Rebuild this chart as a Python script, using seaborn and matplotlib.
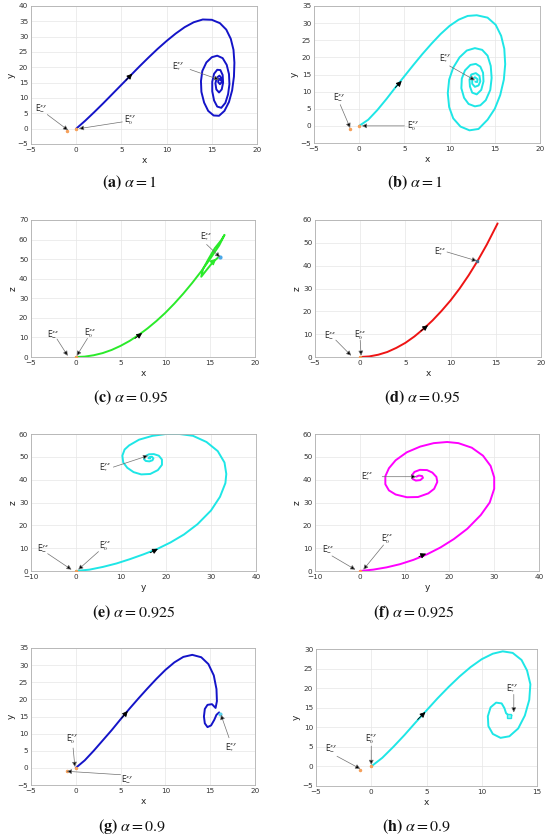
import numpy as np
import pandas as pd
import matplotlib
matplotlib.use("Agg")
import matplotlib.pyplot as plt
import seaborn as sns

# trajectories
a_x = [0, 1, 2, 3, 4, 5, 6, 7, 8, 9, 10, 11, 12, 13, 14, 15, 15.9, 16.6, 17.1, 17.4, 17.5, 17.45, 17.25, 16.9,
       16.4, 15.8, 15.2, 14.6, 14.15, 13.85, 13.8, 13.95, 14.4, 15.0, 15.6, 16.2, 16.65, 16.9, 16.95, 16.8, 16.5,
       16.05, 15.6, 15.25, 15.05, 15.05, 15.25, 15.6, 15.95, 16.2, 16.25, 16.1, 15.8, 15.5, 15.4, 15.55, 15.85,
       16.05, 16.1, 15.9, 15.7, 15.75, 15.9, 15.95]
a_y = [0, 2.6, 5.4, 8.3, 11.3, 14.3, 17.3, 20.3, 23.2, 26.0, 28.6, 31.0, 33.1, 34.7, 35.6, 35.5, 34.4, 32.3,
       29.3, 25.7, 21.5, 17, 12.5, 8.7, 5.8, 4.2, 4.3, 5.8, 8.5, 12, 15.5, 18.8, 21.6, 23.3, 23.8, 23, 20.8, 17.8,
       14.5, 11.2, 8.4, 6.8, 7.2, 9.2, 12.2, 15.3, 17.9, 19.2, 19.1, 17.5, 15, 12.8, 11.8, 12.8, 14.8, 16.6, 17.3,
       16.5, 15.2, 14.5, 15.2, 16.2, 16.2, 15.8]

b_x = [0, 1, 2, 3, 4, 5, 6, 7, 8, 9, 10, 11, 12, 13, 14.2, 15.1, 15.7, 16.05, 16.15, 16.0, 15.6, 15.0, 14.2,
       13.2, 12.2, 11.2, 10.4, 9.95, 9.8, 9.95, 10.4, 11.1, 11.9, 12.8, 13.6, 14.2, 14.55, 14.65, 14.5, 14.0,
       13.4, 12.8, 12.1, 11.6, 11.3, 11.35, 11.7, 12.3, 12.9, 13.4, 13.7, 13.75, 13.5, 13.0, 12.5, 12.25, 12.2,
       12.4, 12.9, 13.3, 13.4, 13.2, 12.8, 12.5, 12.5, 12.8, 13.1, 13.05, 12.85]
b_y = [0, 1.8, 4.6, 7.8, 11.2, 14.5, 17.8, 21.0, 24.0, 26.8, 29.2, 31.0, 32.1, 32.3, 31.6, 29.5, 26.3, 22.5, 18,
       13.5, 9, 5, 1.8, -0.9, -1.3, -0.2, 2.2, 5.5, 9.5, 13.5, 17, 20, 22, 22.7, 22.2, 20.5, 17.5, 14, 10.5, 7.5,
       6, 5.7, 6.4, 8.2, 11, 13.8, 16.2, 17.8, 18.1, 17.3, 15.5, 13, 10.5, 9.2, 9.7, 11.5, 13.5, 15, 15.4, 14.6,
       13, 11.8, 11.4, 12.3, 13.6, 14.2, 13.6, 12.8, 12.9]

c_x = [0, 1, 2, 3, 4, 5, 6, 7, 8, 9, 10, 11, 12, 13, 14, 15, 16, 16.6, 16.2, 15.5, 14.8, 14.2, 14.0, 14.6, 15.3,
       16.0]
c_y = [0, 0.2, 0.9, 2.0, 3.6, 5.7, 8.2, 11.2, 14.6, 18.4, 22.6, 27.3, 32.4, 37.9, 43.8, 50.2, 57.0, 62.4, 59.5,
       55.5, 50, 45, 41, 44.5, 48.5, 51.3]

d_x = [0, 1, 2, 3, 4, 5, 6, 7, 8, 9, 10, 11, 12, 13, 14, 15.2]
d_y = [0, 0.25, 1.0, 2.2, 4.0, 6.2, 9.0, 12.3, 16.0, 20.2, 24.8, 30.0, 35.8, 42.2, 49.2, 58.5]

e_y = [0, 3, 6, 9, 12, 15, 18, 21, 24, 27, 30, 32, 33.2, 33.4, 33, 31.5, 29, 26, 23, 20, 17, 14, 11.8, 10.8,
       10.3, 10.5, 11.4, 12.8, 14.5, 16.5, 18.2, 19.1, 19.1, 18.4, 17.3, 16.2, 15.3, 15.1, 15.5, 16.3, 17.0, 17.2,
       16.9, 16.3, 16.1, 16.5]
e_z = [0, 0.6, 1.8, 3.3, 5.2, 7.3, 9.6, 12.5, 16.0, 20.5, 26.5, 32.5, 38.5, 42.5, 47.5, 52.5, 56.5, 59.2, 60, 60,
       59.2, 57.5, 55, 53.2, 50.5, 47.5, 45.2, 43.3, 42.3, 42.5, 44.2, 46.5, 48.8, 50.5, 51.2, 51.1, 50.2, 49.0,
       48.2, 48.0, 48.5, 49.3, 50.0, 49.9, 49.4, 49.3]

f_y = [0, 3, 6, 9, 12, 15, 18, 21, 24, 27, 29, 30, 30, 29.2, 27.5, 25, 22, 19.5, 16.5, 13.5, 10.5, 8, 6.5, 5.7,
       5.7, 6.5, 8, 10.5, 13, 15.3, 16.6, 17.3, 17.1, 16.2, 15, 13.4, 12.2, 11.6, 11.8, 12.5, 13.5, 14.1, 13.9,
       13.2, 12.6]
f_z = [0, 0.6, 1.6, 3.0, 4.9, 7.3, 10.3, 14, 18.5, 24.5, 30, 36, 41, 46, 50.5, 54, 56, 56.5, 56, 54.5, 52, 48.5,
       45, 41.5, 38, 35.3, 33.5, 32.3, 32.4, 34, 36, 39, 41.2, 43.1, 44.2, 44.3, 43.4, 41.8, 40.3, 39.6, 39.8,
       40.8, 41.6, 41.8, 41.3]

g_x = [0, 1, 2, 3, 4, 5, 6, 7, 8, 9, 10, 11, 12, 13, 14, 14.8, 15.4, 15.7, 15.75, 15.6, 15.2, 14.7, 14.4, 14.3,
       14.4, 14.7, 15.1, 15.45, 15.7, 16.0]
g_y = [0, 2.2, 5.0, 8.0, 11.0, 14.2, 17.3, 20.3, 23.2, 26.0, 28.6, 30.8, 32.4, 33.0, 32.3, 30.3, 27, 23, 19.5,
       17.5, 18.6, 18.4, 17.2, 15.0, 13.0, 11.9, 12.4, 14, 15.5, 16.2]

h_x = [0, 1, 2, 3, 4, 5, 6, 7, 8, 9, 10, 11, 11.9, 12.8, 13.6, 14.1, 14.4, 14.3, 13.9, 13.3, 12.5, 11.7, 11.0,
       10.6, 10.55, 10.8, 11.3, 11.8, 12.05, 12.2, 12.5, 12.7]
h_y = [0, 2.2, 5.0, 8.0, 11.2, 14.3, 17.4, 20.3, 23.0, 25.4, 27.4, 28.8, 29.4, 29.0, 27.2, 24.5, 21, 17, 13, 9.7,
       7.7, 7.3, 8.3, 10.3, 12.8, 15.1, 16.3, 16.1, 14.9, 13.6, 12.9, 13.0]

captions = [r"$\mathbf{(a)}\ \alpha = 1$", r"$\mathbf{(b)}\ \alpha = 1$",
            r"$\mathbf{(c)}\ \alpha = 0.95$", r"$\mathbf{(d)}\ \alpha = 0.95$",
            r"$\mathbf{(e)}\ \alpha = 0.925$", r"$\mathbf{(f)}\ \alpha = 0.925$",
            r"$\mathbf{(g)}\ \alpha = 0.9$", r"$\mathbf{(h)}\ \alpha = 0.9$"]

sns.set_style("whitegrid")
plt.rcParams["font.family"] = ["DejaVu Sans"]
plt.rcParams["mathtext.fontset"] = "stix"

W, H = 550, 839
fig = plt.figure(figsize=(W / 100, H / 100), dpi=100)


def make_ax(l, t, r, b):
    ax = fig.add_axes([l / W, 1 - b / H, (r - l) / W, (b - t) / H])
    ax.grid(True, color="#e6e6e6", lw=0.5)
    for s in ax.spines.values():
        s.set_color("#b0b0b0")
        s.set_linewidth(0.6)
    ax.tick_params(labelsize=5.2, colors="#333333", length=0, pad=2)
    return ax


def panel(ax, xs, ys, color, xlim, ylim, xticks, yticks, xlab, ylab):
    df = pd.DataFrame({"u": xs, "v": ys})
    sns.lineplot(data=df, x="u", y="v", sort=False, estimator=None, color=color, lw=1.4, ax=ax)
    ax.set_xlim(*xlim)
    ax.set_ylim(*ylim)
    ax.set_xticks(xticks)
    ax.set_yticks(yticks)
    ax.set_xlabel(xlab, fontsize=6.5, labelpad=2, color="#222222")
    ax.set_ylabel(ylab, fontsize=6.5, labelpad=1, color="#222222")
    ax.plot([-1, 0], [-0.8, 0], "o", color="#f5a05a", ms=1.5, zorder=3)


def flow(ax, p0, p1):
    ax.annotate("", xy=p1, xytext=p0,
                arrowprops=dict(arrowstyle="-|>", color="k", lw=0.6, mutation_scale=8, shrinkA=0, shrinkB=0))


def label(ax, txt, tpos, start, end):
    ax.annotate("", xy=end, xytext=start,
                arrowprops=dict(arrowstyle="-|>", fc="k", ec="#707070", lw=0.5, mutation_scale=7,
                                shrinkA=0, shrinkB=0), zorder=4)
    ax.text(tpos[0], tpos[1], txt, fontsize=5.5, ha="center", va="center", color="#222222")


xy_s, xy_m, xy_0 = r"E$^{\mathsf{xy}}_{*}$", r"E$^{\mathsf{xy}}_{-}$", r"E$^{\mathsf{xy}}_{0}$"
xz_s, xz_m, xz_0 = r"E$^{\mathsf{xz}}_{*}$", r"E$^{\mathsf{xz}}_{-}$", r"E$^{\mathsf{xz}}_{0}$"
yz_s, yz_m, yz_0 = r"E$^{\mathsf{yz}}_{*}$", r"E$^{\mathsf{yz}}_{-}$", r"E$^{\mathsf{yz}}_{0}$"

# (a)
ax = make_ax(31, 6, 257, 144)
panel(ax, a_x, a_y, "#1414c8", (-5, 20), (-5, 40), range(-5, 21, 5), range(-5, 41, 5), "x", "y")
flow(ax, (5.5, 15.8), (6.2, 17.9))
label(ax, xy_s, (11.3, 20.2), (12.6, 19.3), (15.8, 16))
label(ax, xy_m, (-3.9, 6.8), (-3.2, 4.6), (-0.9, -0.5))
label(ax, xy_0, (6.0, 2.8), (5.1, 2.2), (0.3, 0))

# (b)
ax = make_ax(314, 6, 540, 143)
panel(ax, b_x, b_y, "#1ee6e6", (-5, 20), (-5, 35), range(-5, 21, 5), range(-5, 36, 5), "x", "y")
flow(ax, (4.0, 11.2), (4.7, 13.1))
label(ax, xy_s, (9.5, 19.6), (10.0, 17.5), (12.8, 13.3))
label(ax, xy_m, (-2.2, 8.2), (-2.1, 6.2), (-1.0, -0.6))
label(ax, xy_0, (6.0, 0.0), (5.0, 0.0), (0.3, 0.0))

# (c)
ax = make_ax(31, 220, 255, 357)
panel(ax, c_x, c_y, "#2aea2a", (-5, 20), (0, 70), range(-5, 21, 5), range(0, 71, 10), "x", "z")
flow(ax, (6.6, 9.5), (7.4, 12.2))
ax.annotate("", xy=(15.9, 51.2), xytext=(15.1, 47.8),
            arrowprops=dict(arrowstyle="-|>", color="#2aea2a", lw=0.8, mutation_scale=9))
ax.plot([16.1], [51], "o", color="#4aa8e8", ms=2, zorder=3)
label(ax, xz_s, (14.6, 61.5), (14.6, 57.5), (16.1, 51))
label(ax, xz_m, (-2.5, 11.8), (-2.1, 9.2), (-0.9, 0.6))
label(ax, xz_0, (1.6, 12.2), (1.3, 9.5), (0.1, 0.6))

# (d)
ax = make_ax(315, 220, 541, 357)
panel(ax, d_x, d_y, "#ee1414", (-5, 20), (0, 60), range(-5, 21, 5), range(0, 61, 10), "x", "z")
flow(ax, (6.7, 11.4), (7.5, 13.9))
ax.plot([12.9], [42.1], "s", color="#4a6a8a", ms=2, zorder=3)
label(ax, xz_s, (8.8, 46.2), (9.6, 46.0), (12.9, 42.1))
label(ax, xz_m, (-3.3, 9.3), (-2.7, 7.4), (-1.0, 0.6))
label(ax, xz_0, (0.0, 9.6), (0.0, 7.3), (0.1, 0.6))

# (e)
ax = make_ax(31, 434, 256, 571)
panel(ax, e_y, e_z, "#1ee6e6", (-10, 40), (0, 60), range(-10, 41, 10), range(0, 61, 10), "y", "z")
flow(ax, (16.5, 8.0), (18.2, 9.7))
label(ax, yz_s, (6.5, 45.2), (8.3, 45.5), (16.0, 50.5))
label(ax, yz_m, (-7.2, 9.8), (-6.3, 7.6), (-1.0, 0.6))
label(ax, yz_0, (6.5, 10.8), (5.0, 8.5), (0.5, 0.6))

# (f)
ax = make_ax(315, 434, 539, 571)
panel(ax, f_y, f_z, "magenta", (-10, 40), (0, 60), range(-10, 41, 10), range(0, 61, 10), "y", "z")
flow(ax, (13.2, 6.3), (14.8, 7.6))
label(ax, yz_s, (1.6, 41.5), (5.0, 41.3), (12.6, 41.3))
label(ax, yz_m, (-7.0, 9.3), (-6.2, 6.6), (-1.0, 0.6))
label(ax, yz_0, (6.0, 14.0), (5.3, 11.4), (0.8, 0.6))

# (g)
ax = make_ax(31, 648, 255, 785)
panel(ax, g_x, g_y, "#1414c8", (-5, 20), (-5, 35), range(-5, 21, 5), range(-5, 36, 5), "x", "y")
flow(ax, (5.1, 14.5), (5.8, 16.6))
ax.plot([16.1], [15.8], "o", color="#5ad0e8", ms=2, zorder=3)
label(ax, xy_0, (-0.4, 8.2), (-0.3, 5.8), (-0.1, 0.3))
label(ax, xy_m, (5.7, -3.4), (5.0, -2.0), (-1.0, -1.0))
label(ax, xy_s, (17.3, 6.0), (17.1, 8.8), (16.2, 15.5))

# (h)
ax = make_ax(316, 649, 537, 786)
panel(ax, h_x, h_y, "#1ee6e6", (-5, 15), (-5, 30), range(-5, 16, 5), range(-5, 31, 5), "x", "y")
flow(ax, (4.2, 12.0), (4.9, 13.9))
ax.plot([12.5], [12.9], "s", color="#1ee6e6", ms=3, mfc="#9af0f0", zorder=3)
label(ax, xy_s, (12.8, 20.0), (12.9, 18.4), (12.9, 13.8))
label(ax, xy_0, (0.0, 7.0), (0.0, 5.2), (0.0, 0.4))
label(ax, xy_m, (-3.6, 4.6), (-3.1, 2.6), (-1.0, -0.6))

cap_pos = [(130, 183), (415, 183), (130, 398), (422, 398), (133, 613), (414, 613), (132, 827), (417, 827)]
for (cx, cy), txt in zip(cap_pos, captions):
    fig.text(cx / W, 1 - cy / H, txt, fontsize=11.5, ha="center", va="center", color="#111111")

fig.savefig("out.png", dpi=100)
